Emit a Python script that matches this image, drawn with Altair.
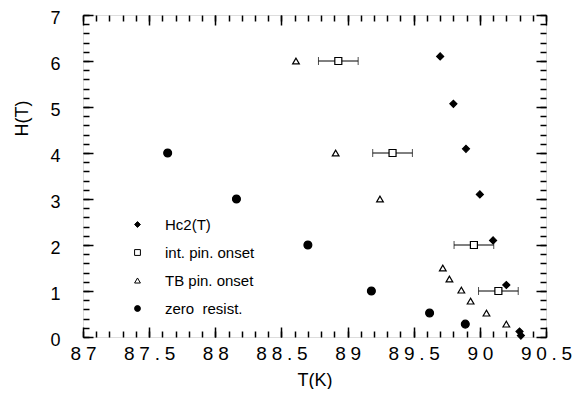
import altair as alt
import pandas as pd

# ---- data ----
hc2_T = [89.70, 89.80, 89.895, 90.00, 90.10, 90.20, 90.30, 90.31]
hc2_H = [6.1, 5.07, 4.09, 3.1, 2.1, 1.13, 0.12, 0.03]

int_T = [88.93, 89.34, 89.955, 90.14]
int_H = [6.0, 4.0, 2.0, 1.0]
int_err = [0.15, 0.15, 0.15, 0.15]

tb_T = [88.61, 88.91, 89.245, 89.72, 89.77, 89.86, 89.93, 90.05, 90.20]
tb_H = [6.0, 4.0, 3.0, 1.5, 1.26, 1.02, 0.78, 0.52, 0.28]

zr_T = [87.64, 88.16, 88.70, 89.18, 89.62, 89.89]
zr_H = [4.0, 3.0, 2.0, 1.0, 0.52, 0.28]

series_names = ["Hc2(T)", "int. pin. onset", "TB pin. onset", "zero\u00a0 resist."]
series_sizes = [49, 49, 45, 62]
x_major = [87, 87.5, 88, 88.5, 89, 89.5, 90, 90.5]
y_major = [0, 1, 2, 3, 4, 5, 6, 7]

rows = []
for name, sz, Ts, Hs in zip(series_names, series_sizes,
                            [hc2_T, int_T, tb_T, zr_T], [hc2_H, int_H, tb_H, zr_H]):
    for t, h in zip(Ts, Hs):
        rows.append({"T": t, "H": h, "series": name, "sz": sz})
pts = pd.DataFrame(rows)

err = pd.DataFrame({"lo": [t - e for t, e in zip(int_T, int_err)],
                    "hi": [t + e for t, e in zip(int_T, int_err)],
                    "H": int_H})

x_minor = [round(87 + 0.1 * i, 2) for i in range(36)]
y_minor = [round(0.2 * i, 2) for i in range(36)]

FONT = "Liberation Sans"
xdom = alt.Scale(domain=[87, 90.5], nice=False, zero=False)
ydom = alt.Scale(domain=[0, 7], nice=False, zero=False)


def tick_axis(orient, values, size, labels=False, **kw):
    return alt.Axis(orient=orient, values=values, tickSize=size, offset=-size,
                    domain=False, grid=False, labels=labels, tickColor="black",
                    tickWidth=1.5, **kw)


x_label_expr = "join(split(datum.label, ''), '\u2005')"

# layer 1: error bar lines (bottom minor, left minor)
rules = alt.Chart(err).mark_rule(color="black", strokeWidth=1).encode(
    x=alt.X("lo:Q", scale=xdom, axis=tick_axis("bottom", x_minor, 6, title=None)),
    x2="hi:Q",
    y=alt.Y("H:Q", scale=ydom, axis=tick_axis("left", y_minor, 6, title=None)),
)

# layer 2: left caps (top major, right major)
caps_l = alt.Chart(err).mark_tick(color="black", thickness=1, size=8, orient="vertical").encode(
    x=alt.X("lo:Q", scale=xdom, axis=tick_axis("top", x_major, 10, title=None)),
    y=alt.Y("H:Q", scale=ydom, axis=tick_axis("right", y_major, 10, title=None)),
)

# layer 3: right caps (top minor, right minor)
caps_r = alt.Chart(err).mark_tick(color="black", thickness=1, size=8, orient="vertical").encode(
    x=alt.X("hi:Q", scale=xdom, axis=tick_axis("top", x_minor, 6, title=None)),
    y=alt.Y("H:Q", scale=ydom, axis=tick_axis("right", y_minor, 6, title=None)),
)

leg = alt.Legend(orient="none", legendX=47, legendY=202, title=None,
                 labelFont=FONT, labelFontSize=15, labelColor="black",
                 symbolSize=34, symbolStrokeColor="black", symbolStrokeWidth=1,
                 rowPadding=12, labelOffset=20, padding=0, labelLimit=300)

# layer 4: data points (bottom major with labels, left major with labels)
points = alt.Chart(pts).mark_point(strokeWidth=1.2, opacity=1).encode(
    x=alt.X("T:Q", scale=xdom,
            axis=tick_axis("bottom", x_major, 10, labels=True, title="T(K)",
                           format="~g", labelExpr=x_label_expr,
                           labelFont=FONT, labelFontSize=19, labelColor="black",
                           labelPadding=7, titleFont=FONT, titleFontSize=18,
                           titleFontWeight="normal", titleColor="black",
                           titlePadding=8, labelFlush=False, labelOverlap=False)),
    y=alt.Y("H:Q", scale=ydom,
            axis=tick_axis("left", y_major, 10, labels=True, title="H(T)",
                           labelFont=FONT, labelFontSize=18, labelColor="black",
                           labelPadding=23, labelOffset=3,
                           titleFont=FONT, titleFontSize=18,
                           titleFontWeight="normal", titleColor="black",
                           titleX=-71, titleY=103, titleBaseline="middle",
                           labelFlush=False, labelOverlap=False)),
    shape=alt.Shape("series:N", scale=alt.Scale(domain=series_names,
                    range=["diamond", "square", "triangle-up", "circle"]), legend=leg),
    fill=alt.Fill("series:N", scale=alt.Scale(domain=series_names,
                  range=["black", "white", "white", "black"]), legend=leg),
    stroke=alt.Stroke("series:N", scale=alt.Scale(domain=series_names,
                      range=["black", "black", "black", "black"]), legend=leg),
    size=alt.Size("sz:Q", scale=None),
)

chart = alt.layer(rules, caps_l, caps_r, points).resolve_axis(
    x="independent", y="independent"
).properties(
    width=463, height=322,
    autosize=alt.AutoSizeParams(type="none"),
    padding={"left": 75, "top": 7, "right": 28, "bottom": 52},
).configure_view(stroke="black", strokeWidth=1.5).configure(background="white")

chart.save("out.html", embed_options={"renderer": "svg", "actions": False})
